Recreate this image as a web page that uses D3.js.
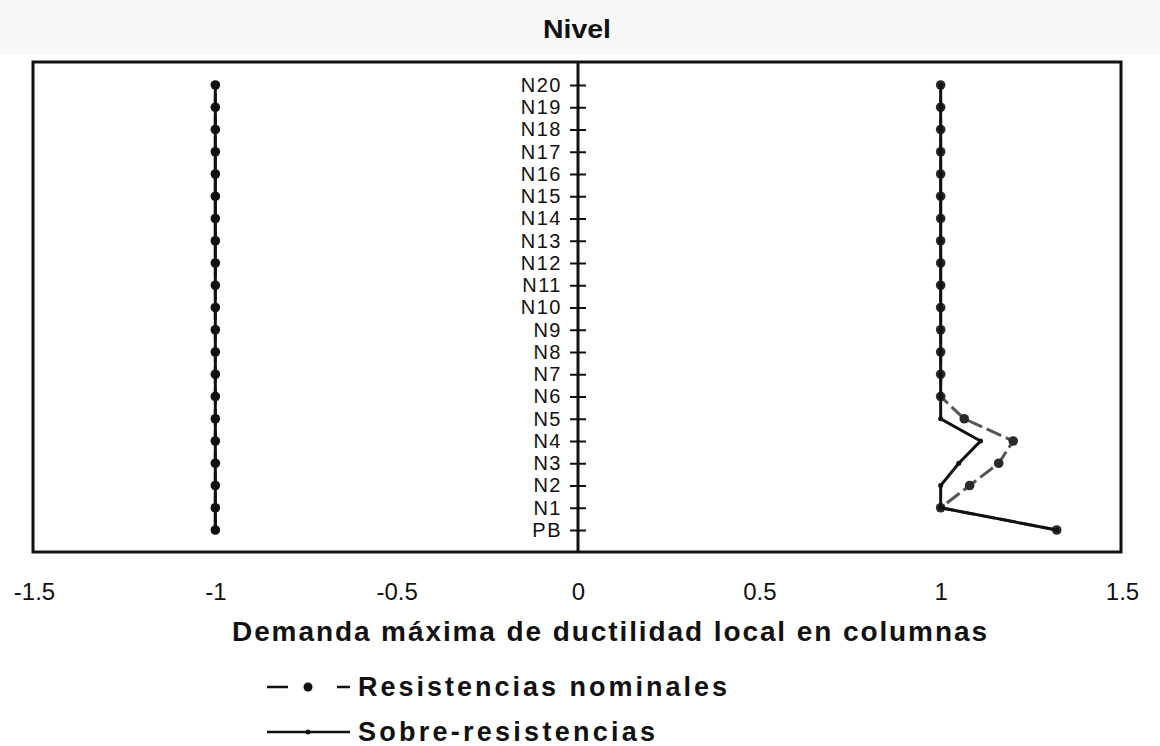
<!DOCTYPE html>
<html>
<head>
<meta charset="utf-8">
<script src="https://cdnjs.cloudflare.com/ajax/libs/d3/7.8.5/d3.min.js"></script>
<style>
  body { margin: 0; background: #fff; }
  text { font-family: "Liberation Sans", Arial, sans-serif; fill: #111; }
</style>
</head>
<body>
<script>
(function() {

	var width = 1160;
	var height = 746;

	// niveles, de abajo hacia arriba
	var levels = ['PB','N1','N2','N3','N4','N5','N6','N7','N8','N9','N10',
		'N11','N12','N13','N14','N15','N16','N17','N18','N19','N20'];

	// lado positivo
	var sobreRes   = [1.32,1.0,1.0,1.05,1.11,1.0,1.0,1,1,1,1,1,1,1,1,1,1,1,1,1,1];
	var nominalRes = [1.32,1.0,1.08,1.16,1.2,1.065,1.0,1,1,1,1,1,1,1,1,1,1,1,1,1,1];

	// lado negativo
	var sobreNeg   = [-1,-1,-1,-1,-1,-1,-1,-1,-1,-1,-1,-1,-1,-1,-1,-1,-1,-1,-1,-1,-1];
	var nominalNeg = [-1,-1,-1,-1,-1,-1,-1,-1,-1,-1,-1,-1,-1,-1,-1,-1,-1,-1,-1,-1,-1];

	var xTicks = [-1.5,-1,-0.5,0,0.5,1,1.5];

	var left = 33, right = 1121, top = 62, bottom = 552;

	var svg = d3.select('body')
		.append('svg')
			.attr('width', width)
			.attr('height', height);

	// banda gris del escaneo
	svg.append('rect')
		.attr('x', 0).attr('y', 0)
		.attr('width', width).attr('height', 55)
		.style('fill', '#f8f8f8');

	var x = d3.scaleLinear().domain([-1.5, 1.5]).range([34, 1122]);
	var y = d3.scalePoint().domain(levels).range([530, 85]);

	// titulo
	svg.append('text')
		.attr('x', 577).attr('y', 38)
		.attr('text-anchor', 'middle')
		.style('font-weight', 'bold')
		.style('font-size', '25px')
		.attr('textLength', 68)
		.attr('lengthAdjust', 'spacingAndGlyphs')
		.text('Nivel');

	// eje x (solo etiquetas)
	var xAxis = svg.append('g')
		.attr('transform', 'translate(0,' + bottom + ')')
		.call(d3.axisBottom(x).tickValues(xTicks).tickSize(0).tickPadding(31)
			.tickFormat(function(d) { return String(d); }));
	xAxis.select('.domain').remove();
	xAxis.selectAll('text')
		.style('font-size', '24px')
		.style('fill', '#111');

	// marco
	svg.append('rect')
		.attr('x', left).attr('y', top)
		.attr('width', right - left).attr('height', bottom - top)
		.style('fill', 'none')
		.style('stroke', '#111')
		.style('stroke-width', 3);

	// eje y en x = 0
	var yAxis = svg.append('g')
		.attr('transform', 'translate(' + x(0) + ',0)')
		.call(d3.axisLeft(y).tickSize(8).tickPadding(8));
	yAxis.select('.domain').remove();
	yAxis.append('line')
		.attr('y1', top).attr('y2', bottom)
		.style('stroke', '#111')
		.style('stroke-width', 3);
	yAxis.selectAll('.tick line')
		.attr('x1', -8).attr('x2', 8)
		.style('stroke', '#111')
		.style('stroke-width', 2);
	yAxis.selectAll('.tick text')
		.style('font-size', '20px')
		.style('letter-spacing', '1.5px')
		.style('fill', '#111');

	function series(values, opts) {
		var pts = levels.map(function(l, i) { return [x(values[i]), y(l)]; });
		svg.append('path')
			.attr('d', d3.line()(pts))
			.style('fill', 'none')
			.style('stroke', opts.color)
			.style('stroke-width', opts.width)
			.style('stroke-dasharray', opts.dash);
		svg.selectAll(null)
			.data(pts)
			.enter()
			.append('circle')
				.attr('cx', function(d) { return d[0]; })
				.attr('cy', function(d) { return d[1]; })
				.attr('r', opts.r)
				.style('fill', opts.dotColor);
	}

	series(nominalNeg, {color: '#222', width: 3, dash: '16,5', r: 4.8, dotColor: '#111'});
	series(sobreNeg,   {color: '#111', width: 3, dash: null, r: 2.5, dotColor: '#111'});
	series(nominalRes, {color: '#555', width: 3, dash: '16,5', r: 4.8, dotColor: '#2a2a2a'});
	series(sobreRes,   {color: '#111', width: 3, dash: null, r: 2.5, dotColor: '#111'});

	// titulo del eje x
	svg.append('text')
		.attr('x', 232).attr('y', 641)
		.attr('textLength', 755)
		.attr('lengthAdjust', 'spacing')
		.style('font-weight', 'bold')
		.style('font-size', '28px')
		.text('Demanda máxima de ductilidad local en columnas');

	// leyenda
	var lg = svg.append('g');
	lg.append('line')
		.attr('x1', 267).attr('x2', 350).attr('y1', 687).attr('y2', 687)
		.style('stroke', '#111').style('stroke-width', 2.5)
		.style('stroke-dasharray', '21,49,13');
	lg.append('circle')
		.attr('cx', 308).attr('cy', 687).attr('r', 4.5)
		.style('fill', '#111');
	lg.append('text')
		.attr('x', 358).attr('y', 696)
		.attr('textLength', 369)
		.attr('lengthAdjust', 'spacing')
		.style('font-weight', 'bold')
		.style('font-size', '27px')
		.text('Resistencias nominales');

	lg.append('line')
		.attr('x1', 267).attr('x2', 350).attr('y1', 732).attr('y2', 732)
		.style('stroke', '#111').style('stroke-width', 2.5);
	lg.append('circle')
		.attr('cx', 308).attr('cy', 732).attr('r', 2.5)
		.style('fill', '#111');
	lg.append('text')
		.attr('x', 358).attr('y', 741)
		.attr('textLength', 297)
		.attr('lengthAdjust', 'spacing')
		.style('font-weight', 'bold')
		.style('font-size', '27px')
		.text('Sobre-resistencias');

})();
</script>
</body>
</html>
